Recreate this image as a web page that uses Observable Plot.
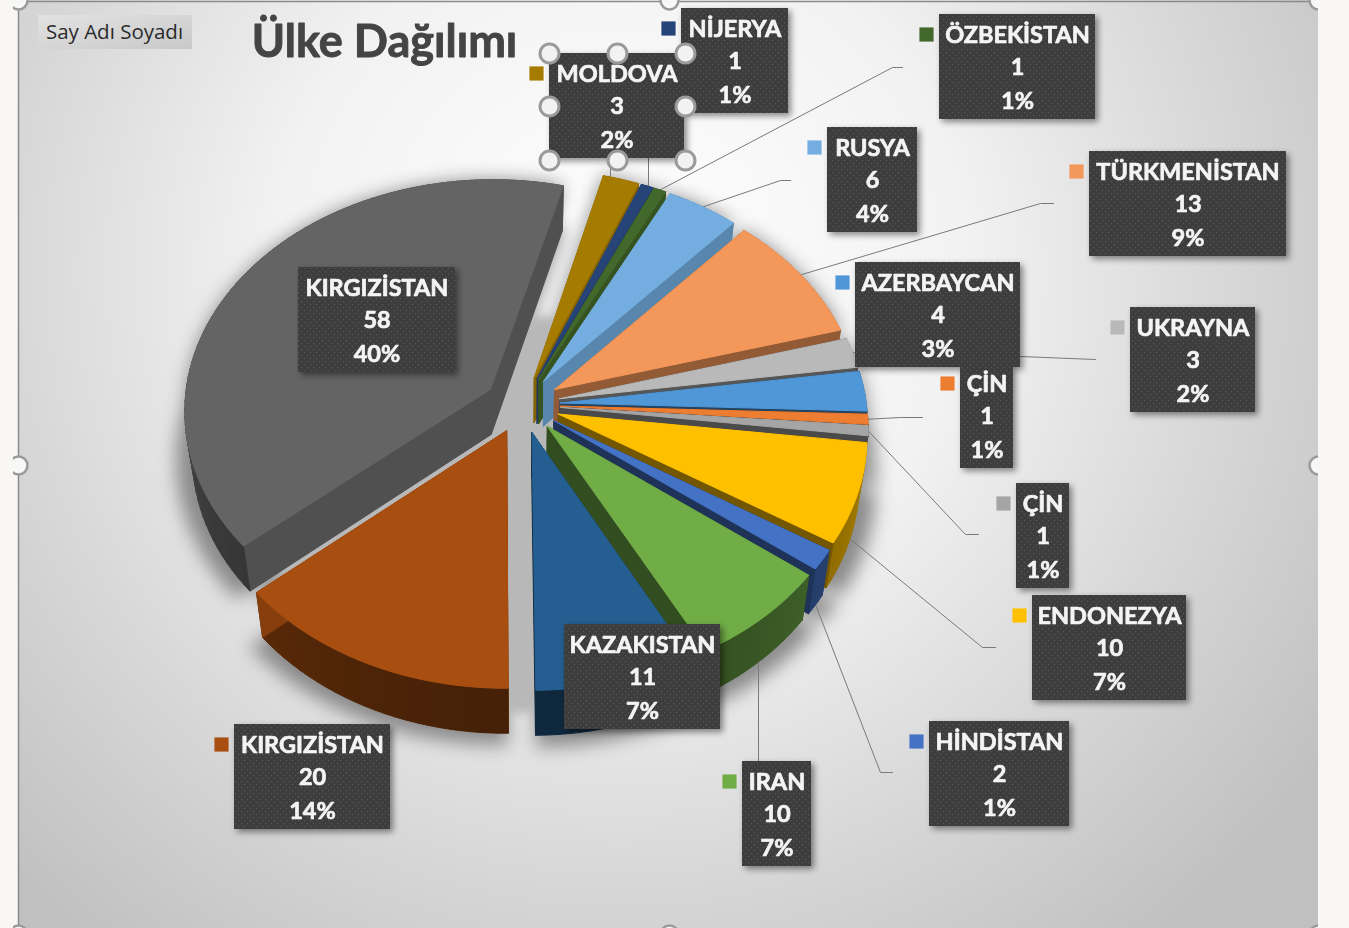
<!DOCTYPE html>
<html lang="tr">
<head>
<meta charset="utf-8">
<title>Ülke Dağılımı</title>
<script src="https://cdn.jsdelivr.net/npm/d3@7"></script>
<script src="https://cdn.jsdelivr.net/npm/@observablehq/plot@0.6"></script>
<style>
html,body{margin:0;padding:0;background:#f8f7f3;overflow:hidden}
svg{display:block;filter:blur(.35px)}
</style>
</head>
<body>
<div id="chart"></div>
<script>
// ---- chart data ----
const names = ["MOLDOVA","NİJERYA","ÖZBEKİSTAN","RUSYA","TÜRKMENİSTAN","UKRAYNA","AZERBAYCAN","ÇİN","ÇİN","ENDONEZYA","HİNDİSTAN","IRAN","KAZAKISTAN","KIRGIZİSTAN","KIRGIZİSTAN"];
const values = [3,1,1,6,13,3,4,1,1,10,2,10,11,20,58];
const percents = ["2%","1%","1%","4%","9%","2%","3%","1%","1%","7%","1%","7%","7%","14%","40%"];
const colors = ["#a67c00","#264478","#43682b","#74aee0","#f3975a","#b9b9b9","#5097d8","#ed7d31","#a5a5a5","#ffc000","#4472c4","#70ad47","#255e91","#a84e10","#646464"];

// ---- label layout: box left, top, right; leader elbow points; leader ends on the wall or on the top face ----
const boxes = [[549,53,684],[681,8,788],[939,14,1095],[827,127,917],[1089,151,1286],[1130,307,1255],[855,262,1020],[960,363,1013],[1016,483,1069],[1032,595,1186],[929,721,1069],[742,761,811],[564,624,720],[234,724,390],[298,267,455]];
const noSwatch = [12,14];
const elbows = [
  [[610,160]],[[648,150]],[[902,67],[892,67]],[[790,180],[780,180]],[[1053,203],[1040,203]],
  [[1095,359],[1020,356]],null,[[922,417],[900,417]],[[978,534],[965,534]],[[995,647],[982,647]],
  [[892,772],[880,772]],[[758,761]],null,null,null
];
const leaderOnWall = [9,10,11];
const verticalLeaders = [0,1,11];
const drawOrder = [1,0,2,3,4,5,6,7,8,9,10,11,12,13,14];
const selectionHandles = [[549,53],[617,53],[685,53],[549,106],[685,106],[549,160],[617,160],[685,160]];
const frameHandles = [[18,0],[669,0],[1318,0],[18,465],[1318,465],[18,934],[669,934],[1318,934]];

// ---- 3D pie projection ----
const CX=522, CY=404, RX=306, RY=230.4, K=.0866, EXPLODE=.124, DEPTH=45, SHRINK=.977, ROTATE=14.5;
const total = d3.sum(values);
const rad = d => d*Math.PI/180;
function project(u,v,wall=false){
  const w=1+K*v;
  return {x:CX+RX*u/w*(wall?SHRINK:1), y:CY-RY*v/w+(wall?DEPTH:0)};
}
let cum=0;
const wedges = values.map((val,i)=>{
  const a0=ROTATE+cum/total*360; cum+=val; const a1=ROTATE+cum/total*360;
  const mid=(a0+a1)/2, ex=Math.sin(rad(mid))*EXPLODE, ey=Math.cos(rad(mid))*EXPLODE;
  const n=Math.max(2,Math.ceil((a1-a0)/2)), outline=[{u:ex,v:ey,a:null}];
  for(let j=0;j<=n;j++){const a=a0+(a1-a0)*j/n; outline.push({u:ex+Math.sin(rad(a)),v:ey+Math.cos(rad(a)),a});}
  return {i,mid,outline,ex,ey,tipY:project(ex,ey).y,outer:{u:ex+Math.sin(rad(mid)),v:ey+Math.cos(rad(mid))}};
});
const fromFront = a => Math.abs(((a%360)+360)%360-180);
const shadeOuter=(c,a)=>d3.interpolateRgb("#000",c)(.42+.38*Math.pow(Math.min(1,fromFront(a)/110),1.5));
const shadeRadial=(c,a)=>{
  const d=fromFront(a), left=((a%360)+360)%360>180;
  return d3.interpolateRgb("#000",c)(left?.8:d<100?.45:Math.min(.8,.45+(d-100)/50*.35));
};
const faces=[], shadow=[];
[...wedges].sort((a,b)=>a.tipY-b.tipY).forEach(w=>{
  const c=colors[w.i], pts=w.outline, m=pts.length;
  for(let j=0;j<m;j++){
    const p=pts[j], q=pts[(j+1)%m];
    const outer=p.a!==null&&q.a!==null;
    const col=outer?shadeOuter(c,(p.a+q.a)/2):shadeRadial(c,w.mid), id=`w${w.i}-${j}`;
    [project(p.u,p.v),project(q.u,q.v),project(q.u,q.v,true),project(p.u,p.v,true),project(p.u,p.v)]
      .forEach(s=>faces.push({id,x:s.x,y:s.y,c:col}));
  }
  [...pts,pts[0]].forEach(p=>{const s=project(p.u,p.v);faces.push({id:`t${w.i}`,x:s.x,y:s.y,c});});
  pts.forEach(p=>{const s=project(p.u,p.v,true);
    shadow.push({id:`b${w.i}`,x:CX+(s.x-CX)*1.05,y:CY+(s.y-CY)*1.03+2});});
  pts.forEach(p=>{const s=project(p.u,p.v);
    shadow.push({id:`a${w.i}`,x:s.x,y:s.y});});
});
// grey ground seen through the gaps between the slices
const gapGround=d3.range(0,361,6).map(a=>project(.8*Math.sin(rad(a)),-.4+.8*Math.cos(rad(a))));

// ---- leaders, boxes, labels from the arrays above ----
const leaders=[];
elbows.forEach((e,i)=>{
  if(!e) return;
  e.forEach(p=>leaders.push({id:i,x:p[0],y:p[1]}));
  const o=wedges[i].outer, s=project(o.u,o.v,leaderOnWall.includes(i));
  leaders.push({id:i,x:verticalLeaders.includes(i)?e[e.length-1][0]:s.x,y:s.y});
});
const boxRows=drawOrder.map(i=>({x1:boxes[i][0],y1:boxes[i][1],x2:boxes[i][2],y2:boxes[i][1]+105}));
const textRows=drawOrder.flatMap(i=>{
  const x=(boxes[i][0]+boxes[i][2])/2, y=boxes[i][1];
  return [[names[i],21],[String(values[i]),53],[percents[i],87]].map(([t,o])=>({x,y:y+o,t}));
});
const swatches=names.map((_,i)=>i).filter(i=>!noSwatch.includes(i))
  .map(i=>({x:boxes[i][0]-13,y:boxes[i][1]+20,c:colors[i]}));

const defs=()=>{
  const g=d3.create("svg:g"), d=g.append("defs");
  const bg=d.append("radialGradient").attr("id","bg").attr("gradientUnits","userSpaceOnUse")
    .attr("cx",620).attr("cy",270).attr("r",860);
  [[0,"#ffffff"],[.4,"#f2f2f2"],[.7,"#d8d8d8"],[1,"#c0c0c0"]].forEach(([o,c])=>bg.append("stop").attr("offset",o).attr("stop-color",c));
  const btn=d.append("linearGradient").attr("id","btn").attr("x1",0).attr("x2",1).attr("y1",0).attr("y2",1);
  btn.append("stop").attr("offset",0).attr("stop-color","#e2e2e2");
  btn.append("stop").attr("offset",1).attr("stop-color","#c9c9c9");
  const p=d.append("pattern").attr("id","dots").attr("patternUnits","userSpaceOnUse").attr("width",6).attr("height",6);
  p.append("rect").attr("width",6).attr("height",6).attr("fill","#3d3d3d");
  p.append("rect").attr("x",1).attr("y",1).attr("width",1.2).attr("height",1.2).attr("fill","#575757");
  p.append("rect").attr("x",4).attr("y",4).attr("width",1.2).attr("height",1.2).attr("fill","#575757");
  return g.node();
};

const chart=Plot.plot({
  width:1349,height:928,margin:0,
  style:{background:"transparent"},
  x:{domain:[0,1349],range:[0,1349],axis:null},
  y:{domain:[0,928],range:[0,928],axis:null},
  color:{type:"identity"},
  marks:[
    defs,
    Plot.rect([{x1:18,x2:1318,y1:0,y2:928}],{x1:"x1",x2:"x2",y1:"y1",y2:"y2",fill:"url(#bg)"}),
    Plot.ruleX([18],{y1:0,y2:928,stroke:"#8a8a8a",strokeWidth:1.5}),
    Plot.ruleY([1],{x1:18,x2:1318,stroke:"#8a8a8a",strokeWidth:1.5}),
    Plot.rect([{x1:38,x2:192,y1:15,y2:49}],{x1:"x1",x2:"x2",y1:"y1",y2:"y2",fill:"url(#btn)"}),
    Plot.text(["Say Adı Soyadı"],{x:114,y:32,text:d=>d,fontFamily:"Open Sans",fontSize:20.5,fill:"#2a2a2a"}),
    Plot.text(["Ülke Dağılımı"],{x:384,y:42,text:d=>d,fontFamily:"Lato",fontWeight:"bold",fontSize:45,fill:"#444444",stroke:"#444444",strokeWidth:.9}),
    Plot.line(shadow,{x:"x",y:"y",z:"id",fill:"#8a8a8a",stroke:"none",imageFilter:"blur(9px)"}),
    Plot.line(gapGround,{x:"x",y:"y",fill:"#b8b8b8",stroke:"none",imageFilter:"blur(5px)"}),
    Plot.line(leaders,{x:"x",y:"y",z:"id",stroke:"#7a7a7a",strokeWidth:1}),
    Plot.line(faces,{x:"x",y:"y",z:"id",fill:"c",stroke:"c",strokeWidth:1}),
    Plot.line(leaders.filter(d=>d.id===11),{x:"x",y:"y",z:"id",stroke:"#7a7a7a",strokeWidth:1}),
    Plot.rect(boxRows,{x1:"x1",x2:"x2",y1:"y1",y2:"y2",fill:"url(#dots)",imageFilter:"drop-shadow(3px 3px 3px rgba(0,0,0,.45))"}),
    Plot.dot(swatches,{x:"x",y:"y",symbol:"square",r:8,fill:"c",stroke:"none"}),
    Plot.text(textRows,{x:"x",y:"y",text:"t",fontFamily:"Lato",fontWeight:"bold",fontSize:23.5,fill:"#f4f4f4",stroke:"#f4f4f4",strokeWidth:.7}),
    Plot.dot(selectionHandles,{x:d=>d[0],y:d=>d[1],r:9.5,fill:"#f2f2f2",stroke:"#9a9a9a",strokeWidth:3}),
    Plot.dot(frameHandles,{x:d=>d[0],y:d=>d[1],r:9,fill:"#f7f7f7",stroke:"#9a9a9a",strokeWidth:2.5}),
    Plot.rect([{x1:0,x2:13},{x1:1318,x2:1349}],{x1:"x1",x2:"x2",y1:0,y2:928,fill:"#f8f7f3"})
  ]
});
document.getElementById("chart").append(chart);
</script>
</body>
</html>
